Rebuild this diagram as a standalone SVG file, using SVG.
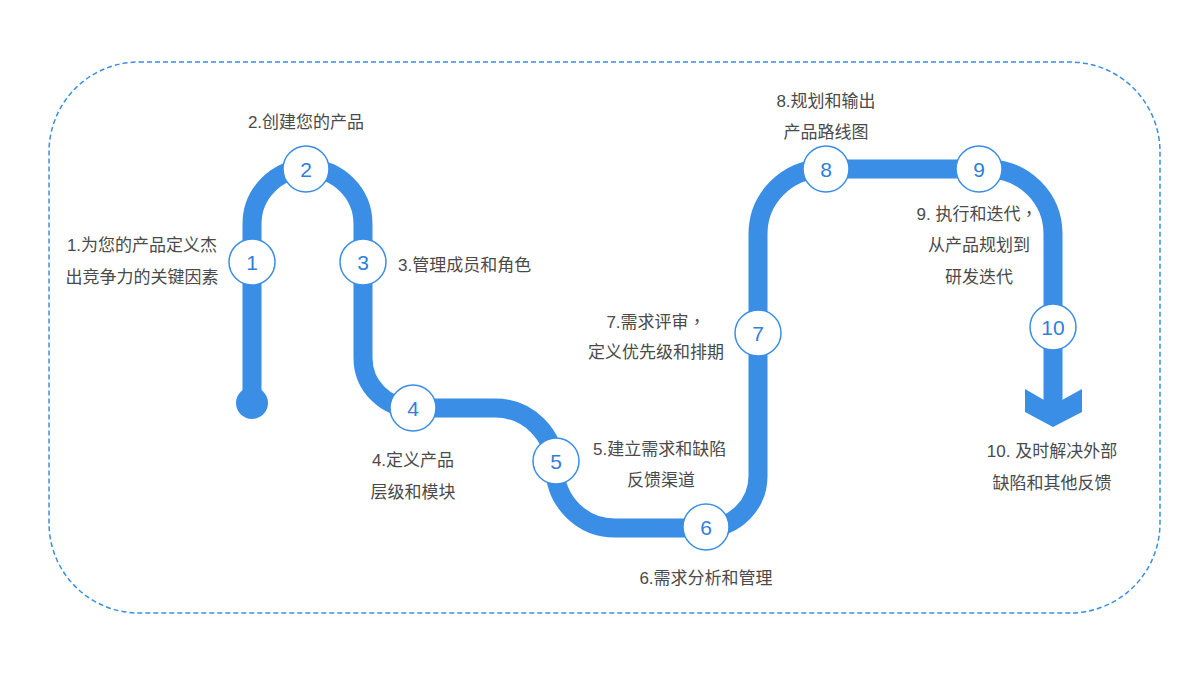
<svg xmlns="http://www.w3.org/2000/svg" width="1200" height="675" viewBox="0 0 1200 675">
<style>
.lbl{font-family:"Liberation Sans","Noto Sans CJK SC",sans-serif;font-size:17px;fill:#4a4a4a}
.num{font-family:"Liberation Sans","Noto Sans",sans-serif;font-size:21px;fill:#2f7fd8;text-anchor:middle}
.nc{fill:#ffffff;stroke:#3a8ee6;stroke-width:1.5}
.road{fill:none;stroke:#3a8ee6;stroke-width:19}
.cm{font-family:"Liberation Sans","Noto Sans CJK TC",sans-serif}
</style>
<rect x="49" y="62" width="1111" height="551" rx="90" ry="90" fill="none" stroke="#3a8ee6" stroke-width="1.5" stroke-dasharray="5,3"/>
<g id="connectors">
<circle cx="252" cy="403" r="16" fill="#3a8ee6"/>
<path class="road" d="M252,403 V224 A55.5,55.5 0 0 1 363,224 V358 A50,50 0 0 0 413,408 H495 A60,60 0 0 1 555,468 A60,60 0 0 0 615,528 H706 A52,52 0 0 0 758,476 V234 A65,65 0 0 1 823,169 H988 A65,65 0 0 1 1053,234 V402"/>
<polygon points="1025,389 1044,400 1062,400 1082,389 1082,412 1053,427 1025,412" fill="#3a8ee6"/>
</g>
<g id="n1"><circle class="nc" cx="252" cy="262" r="23"/><text class="num" x="252" y="270">1</text>
<text class="lbl" x="142" y="251" text-anchor="middle">1.为您的产品定义杰</text><text class="lbl" x="142" y="283" text-anchor="middle">出竞争力的关键因素</text></g>
<g id="n2"><circle class="nc" cx="306" cy="169" r="23"/><text class="num" x="306" y="177">2</text>
<text class="lbl" x="306" y="128" text-anchor="middle">2.创建您的产品</text></g>
<g id="n3"><circle class="nc" cx="363" cy="262" r="23"/><text class="num" x="363" y="270">3</text>
<text class="lbl" x="398" y="271">3.管理成员和角色</text></g>
<g id="n4"><circle class="nc" cx="413" cy="408" r="23"/><text class="num" x="413" y="416">4</text>
<text class="lbl" x="413" y="466" text-anchor="middle">4.定义产品</text><text class="lbl" x="413" y="498" text-anchor="middle">层级和模块</text></g>
<g id="n5"><circle class="nc" cx="556" cy="461" r="23"/><text class="num" x="556" y="469">5</text>
<text class="lbl" x="593" y="455">5.建立需求和缺陷</text><text class="lbl" x="661" y="486" text-anchor="middle">反馈渠道</text></g>
<g id="n6"><circle class="nc" cx="706" cy="527" r="23"/><text class="num" x="706" y="535">6</text>
<text class="lbl" x="706" y="584" text-anchor="middle">6.需求分析和管理</text></g>
<g id="n7"><circle class="nc" cx="758" cy="333" r="23"/><text class="num" x="758" y="341">7</text>
<text class="lbl" x="656" y="328" text-anchor="middle">7.需求评审<tspan class="cm">，</tspan></text><text class="lbl" x="656" y="358" text-anchor="middle">定义优先级和排期</text></g>
<g id="n8"><circle class="nc" cx="826" cy="169" r="23"/><text class="num" x="826" y="177">8</text>
<text class="lbl" x="826" y="107" text-anchor="middle">8.规划和输出</text><text class="lbl" x="826" y="138" text-anchor="middle">产品路线图</text></g>
<g id="n9"><circle class="nc" cx="979" cy="169" r="23"/><text class="num" x="979" y="177">9</text>
<text class="lbl" x="977" y="220" text-anchor="middle">9. 执行和迭代<tspan class="cm">，</tspan></text><text class="lbl" x="979" y="251" text-anchor="middle">从产品规划到</text><text class="lbl" x="979" y="283" text-anchor="middle">研发迭代</text></g>
<g id="n10"><circle class="nc" cx="1053" cy="327" r="23"/><text class="num" x="1053" y="335">10</text>
<text class="lbl" x="1052" y="457" text-anchor="middle">10. 及时解决外部</text><text class="lbl" x="1052" y="489" text-anchor="middle">缺陷和其他反馈</text></g>
</svg>
